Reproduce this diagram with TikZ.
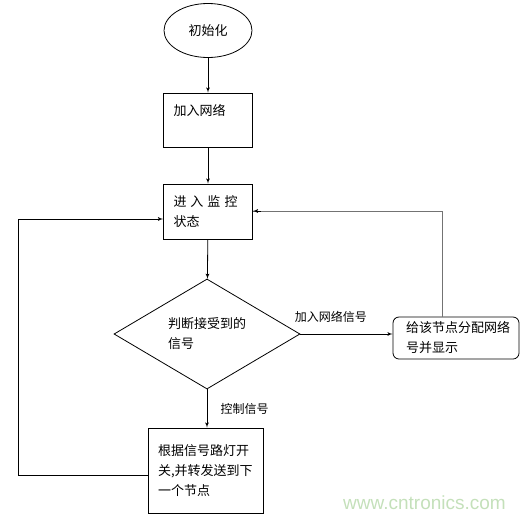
\documentclass[tikz,border=0pt]{standalone}
\usepackage{fontspec}
\setmainfont{Noto Sans CJK SC}
\newfontfamily\webfont{Liberation Sans}
\usetikzlibrary{arrows,shapes.geometric}
\definecolor{markgreen}{RGB}{196,224,186}
\tikzstyle{flowline}=[line width=0.8pt]

\begin{document}
\begin{tikzpicture}[x=1pt,y=-1pt,>=latex',auto,
                    box node/.style={rectangle,draw,line width=0.8pt,inner xsep=10pt,
                      align=left,font=\fontsize{13}{20}\selectfont},
                    label node/.style={font=\fontsize{12}{14}\selectfont}]
\useasboundingbox (0,0) rectangle (526,520);

\node[ellipse,draw,line width=0.8pt,minimum width=88,minimum height=54,
      font=\fontsize{13}{16}\selectfont] (init) at (208,30.5) {初始化};
\node[box node,text width=69,minimum height=54] (join) at (208,120) {加入网络\\\mbox{}};
\node[box node,text width=69,minimum height=55] (monitor) at (208,211.5)
  {进\hspace{4pt}入\hspace{4pt}监\hspace{4pt}控\\状态};
\node[diamond,draw,line width=0.8pt,minimum width=186,minimum height=110,inner sep=0pt,
      align=left,font=\fontsize{13}{20}\selectfont] (judge) at (207,334)
  {判断接受到的\\信号\hspace{52pt}\mbox{}};
\node[box node,rounded corners=6pt,inner xsep=13pt,text width=100,minimum height=42]
  (assign) at (456,338) {给该节点分配网络\\号并显示};
\node[box node,text width=95,minimum height=85] (control) at (205.5,470.5)
  {根据信号路灯开\\关,并转发送到下\\一个节点};

\coordinate (turnR) at (442,211);
\coordinate (loopB) at (18,475);
\coordinate (loopT) at (18,219);

\path[flowline,->]
  (init) edge (join)
  (join) edge (monitor)
  (monitor) edge (judge);
\draw[flowline,->] (judge.east) -- (judge.east -| assign.west)
  node[label node,pos=0.33,above=8pt] (joinsig) {加入网络信号};
\draw[flowline,->] (judge.south) -- (judge.south |- control.north)
  node[label node,midway,right=10pt] (ctrlsig) {控制信号};
\draw[flowline,draw=black!55] (turnR |- assign.north) -- (turnR) -- (monitor.east |- turnR);
\draw[flowline,->] ([xshift=8pt]monitor.east |- turnR) -- (monitor.east |- turnR);
\draw[flowline,->] (loopB -| control.west) -- (loopB) -- (loopT) -- (loopT -| monitor.west);

\node[font=\webfont\fontsize{19}{22}\selectfont,text=markgreen,anchor=west,inner sep=0pt]
  (mark) at (343,503) {www.cntronics.com};
\end{tikzpicture}
\end{document}
